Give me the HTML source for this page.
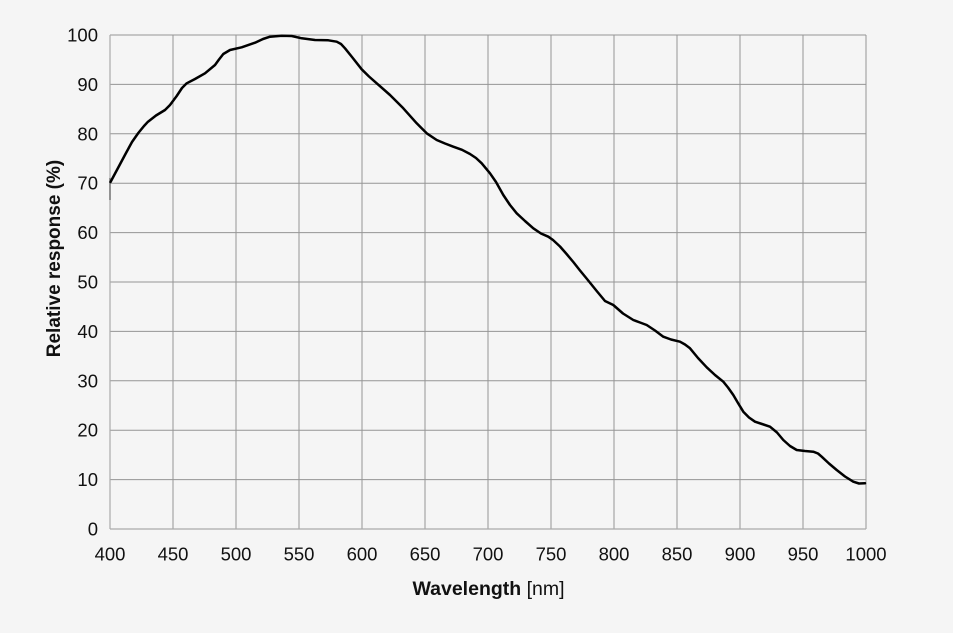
<!DOCTYPE html>
<html><head><meta charset="utf-8"><style>
html,body{margin:0;padding:0;background:#f5f5f5;}
svg{display:block;}
text{font-family:"Liberation Sans",sans-serif;fill:#111;}
</style></head><body>
<svg width="953" height="633" viewBox="0 0 953 633" xmlns="http://www.w3.org/2000/svg">
<rect width="953" height="633" fill="#f5f5f5"/>
<g stroke="#959595" stroke-width="1">
<line x1="110" y1="35" x2="866" y2="35"/>
<line x1="110" y1="84.4" x2="866" y2="84.4"/>
<line x1="110" y1="133.8" x2="866" y2="133.8"/>
<line x1="110" y1="183.2" x2="866" y2="183.2"/>
<line x1="110" y1="232.6" x2="866" y2="232.6"/>
<line x1="110" y1="282" x2="866" y2="282"/>
<line x1="110" y1="331.4" x2="866" y2="331.4"/>
<line x1="110" y1="380.8" x2="866" y2="380.8"/>
<line x1="110" y1="430.2" x2="866" y2="430.2"/>
<line x1="110" y1="479.6" x2="866" y2="479.6"/>
<line x1="173" y1="35" x2="173" y2="529"/>
<line x1="236" y1="35" x2="236" y2="529"/>
<line x1="299" y1="35" x2="299" y2="529"/>
<line x1="362" y1="35" x2="362" y2="529"/>
<line x1="425" y1="35" x2="425" y2="529"/>
<line x1="488" y1="35" x2="488" y2="529"/>
<line x1="551" y1="35" x2="551" y2="529"/>
<line x1="614" y1="35" x2="614" y2="529"/>
<line x1="677" y1="35" x2="677" y2="529"/>
<line x1="740" y1="35" x2="740" y2="529"/>
<line x1="803" y1="35" x2="803" y2="529"/>
<line x1="866" y1="35" x2="866" y2="529"/>
</g>
<g stroke="#aaaaaa" stroke-width="1.2">
<line x1="110" y1="35" x2="110" y2="529"/>
<line x1="110" y1="529" x2="866" y2="529"/>
</g>
<line x1="110" y1="178" x2="110" y2="200" stroke="#777" stroke-width="1.5"/>
<polyline fill="none" stroke="#000" stroke-width="2.5" stroke-linejoin="round" stroke-linecap="round" points="
110.5,182 118,168 126,153 132,142 138.3,133 144,126 148,121.7 156,115.5 165,110 170,105 176.7,96 182,88 186.7,83.3 195,79 205,73.3 215,65 219,59.5 223.3,54 230,50 241.7,47.3 255,42.7 263,39 270,36.7 281.7,35.7 291.7,36 301.7,38.3 315,40 328.3,40.3 336.7,41.7 341,44 345,48.3 352,57 361.7,69.3 369,76.5 376.7,83.3 390,95 403.3,108.3 416.7,123.3 426.7,133.3 436.7,140 445,143.5 453.3,146.7 462,149.8 470,154 476,158 481.7,163.3 490,173.3 496,182 503.3,195 510,205 516.7,213.3 525,221 533.3,228.3 541,233.5 548.3,236.7 553,240 560,246.5 567,254.5 573.3,262 580,270.5 587,279 596.7,291 605,301 613.3,305 623,313.5 633.3,320 640,322.5 646.7,325 655,330.5 663.3,336.7 671,339.5 680,341.7 685,344.5 690,348.3 698,358 706.7,367.3 715,375 723.3,381.7 728,387.5 733.3,395 738,403 743.3,411.7 749,417.5 755,421.7 762,424 770,426.7 777,432.5 783.3,440 790,446 796.7,450 805,451 813.3,451.7 818,453.5 821.7,456.7 829,463.5 836.7,470 845,476.5 853.3,481.7 859,483.5 865,483.3"/>
<g font-size="18.5" text-anchor="end">
<text x="98" y="41.5">100</text>
<text x="98" y="90.9">90</text>
<text x="98" y="140.3">80</text>
<text x="98" y="189.7">70</text>
<text x="98" y="239.1">60</text>
<text x="98" y="288.5">50</text>
<text x="98" y="337.9">40</text>
<text x="98" y="387.3">30</text>
<text x="98" y="436.7">20</text>
<text x="98" y="486.1">10</text>
<text x="98" y="535.5">0</text>
</g>
<g font-size="18.5" text-anchor="middle">
<text x="110" y="560.5">400</text>
<text x="173" y="560.5">450</text>
<text x="236" y="560.5">500</text>
<text x="299" y="560.5">550</text>
<text x="362" y="560.5">600</text>
<text x="425" y="560.5">650</text>
<text x="488" y="560.5">700</text>
<text x="551" y="560.5">750</text>
<text x="614" y="560.5">800</text>
<text x="677" y="560.5">850</text>
<text x="740" y="560.5">900</text>
<text x="803" y="560.5">950</text>
<text x="866" y="560.5">1000</text>
</g>
<text x="488.5" y="595" font-size="19.5" text-anchor="middle" font-weight="bold">Wavelength <tspan font-weight="normal">[nm]</tspan></text>
<text transform="translate(60,258.5) rotate(-90)" font-size="19" text-anchor="middle" font-weight="bold">Relative response (%)</text>
</svg>
</body></html>
